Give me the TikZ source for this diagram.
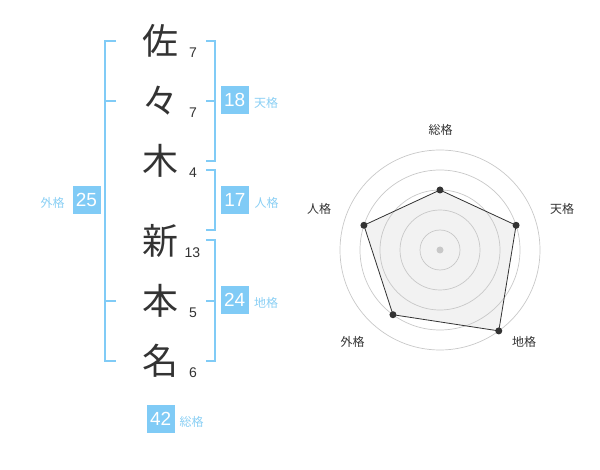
\documentclass[tikz,border=0pt]{standalone}
\usepackage{fontspec}
\setmainfont{Liberation Sans}
\newfontfamily\jp{Noto Sans CJK JP}
\usepackage{tikz}
\usetikzlibrary{positioning}
\definecolor{ink}{HTML}{333333}
\definecolor{sky}{HTML}{80CBF6}
\definecolor{skytext}{HTML}{8ACFF4}
\definecolor{ringc}{HTML}{C8C8C8}
\definecolor{areac}{HTML}{F2F2F2}
\tikzstyle{kanji} = [font=\jp\fontsize{36}{36}\selectfont, text=ink, inner sep=0pt]
\tikzstyle{strokes} = [font=\fontsize{14}{14}\selectfont, text=ink, inner sep=0pt]
\tikzstyle{score} = [rectangle, fill=sky, text=white, minimum width=28pt, minimum height=28pt, inner sep=0pt, font=\fontsize{19}{19}\selectfont]
\tikzstyle{kaku} = [font=\jp\fontsize{12}{12}\selectfont, text=skytext, inner sep=0pt]
\tikzstyle{axislabel} = [font=\jp\fontsize{12}{12}\selectfont, text=ink, inner sep=0pt]
\tikzstyle{bracket} = [draw=sky, line width=1.6pt]
\tikzstyle{ring} = [draw=ringc, line width=0.7pt]
\tikzstyle{web} = [draw=ink, line width=0.8pt, line join=round]

\begin{document}
\begin{tikzpicture}[x=1pt, y=-1pt, node distance=60pt]
    \useasboundingbox (0,0) rectangle (600,470);
        % name column
        \node (sa) [kanji] at (160,41) {佐};
        \node (odoriji) [kanji, below of=sa] {々};
        \node (ki) [kanji, below of=odoriji] {木};
        \node (shin) [kanji] at (160,241) {新};
        \node (hon) [kanji, below of=shin] {本};
        \node (na) [kanji, below of=hon] {名};

        \node (k1) [strokes] at (193,53) {7};
        \node (k2) [strokes] at (193,113) {7};
        \node (k3) [strokes] at (193,173) {4};
        \node (k4) [strokes] at (192.3,253) {13};
        \node (k5) [strokes] at (193,313) {5};
        \node (k6) [strokes] at (193,373) {6};

        % brackets
        \coordinate (lx) at (105,0);
        \coordinate (lt) at (116,0);
        \coordinate (rx) at (215,0);
        \coordinate (rt) at (206,0);
        \coordinate (jinTop) at (206,170);
        \coordinate (jinBot) at (206,230);
        \coordinate (chiTop) at (206,240);
        \draw [bracket] (sa -| lt) -- (sa -| lx) -- (na -| lx) -- (na -| lt);
        \draw [bracket] (odoriji -| lt) -- (odoriji -| lx);
        \draw [bracket] (hon -| lt) -- (hon -| lx);
        \draw [bracket] (sa -| rt) -- (sa -| rx) -- (ki -| rx) -- (ki -| rt);
        \draw [bracket] (odoriji -| rt) -- (odoriji -| rx);
        \draw [bracket] (jinTop) -- (jinTop -| rx) -- (jinBot -| rx) -- (jinBot);
        \draw [bracket] (chiTop) -- (chiTop -| rx) -- (na -| rx) -- (na -| rt);
        \draw [bracket] (hon -| rt) -- (hon -| rx);

        % scores
        \node (gai) [score] at (86.5,200) {25};
        \node (ten) [score] at (234.7,100) {18};
        \node (jin) [score] at (235,200) {17};
        \node (chi) [score] at (234.7,300) {24};
        \node (sou) [score] at (160.7,419.3) {42};
        \node (gaiL) [kaku] at (52.7,203) {外格};
        \node (tenL) [kaku] at (266,103) {天格};
        \node (jinL) [kaku] at (266.7,203) {人格};
        \node (chiL) [kaku] at (266,303) {地格};
        \node (souL) [kaku] at (191.7,422) {総格};

        % radar
        \coordinate (ctr) at (440,250);
        \foreach \name/\ang/\val in {sou/90/60, ten/18/80, chi/-54/100, gai/-126/80, jin/162/80}
            \coordinate (p\name) at ([shift={(\ang:\val pt)}]ctr);
        \fill [areac] (psou) -- (pten) -- (pchi) -- (pgai) -- (pjin) -- cycle;
        \foreach \r in {20,40,60,80,100}
            \draw [ring] (ctr) circle (\r pt);
        \draw [web] (psou) -- (pten) -- (pchi) -- (pgai) -- (pjin) -- cycle;
        \foreach \name in {sou,ten,chi,gai,jin}
            \fill [ink] (p\name) circle (3.5pt);
        \fill [ringc] (ctr) circle (3.5pt);

        \node (axSou) [axislabel] at (440.7,130) {総格};
        \node (axTen) [axislabel] at (562,209) {天格};
        \node (axChi) [axislabel] at (524,342) {地格};
        \node (axGai) [axislabel] at (352.7,342) {外格};
        \node (axJin) [axislabel] at (319,209) {人格};
    \end{tikzpicture}
\end{document}
